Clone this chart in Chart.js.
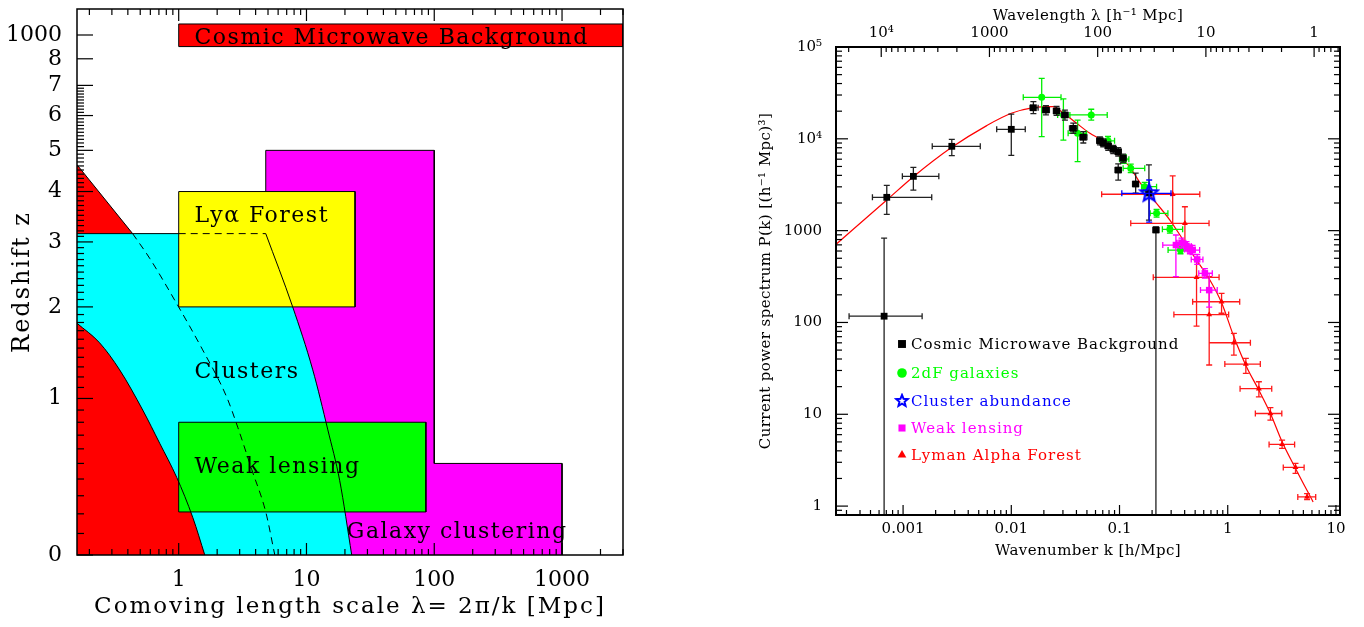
<!DOCTYPE html>
<html>
<head>
<meta charset="utf-8">
<script src="https://cdn.jsdelivr.net/npm/chart.js@4.4.1/dist/chart.umd.min.js"></script>
<style>
  html, body { margin: 0; padding: 0; background: #fff; }
  body { width: 1364px; height: 627px; position: relative; overflow: hidden; }
  canvas { position: absolute; top: 0; }
  #scalesChart { left: 0; }
  #powerChart { left: 680px; }
</style>
</head>
<body>
<canvas id="scalesChart" width="680" height="627"></canvas>
<canvas id="powerChart" width="684" height="627"></canvas>
<script>
// ---------- left panel: length scale [Mpc] vs redshift (stored as 1+z) ----------
const lengthTicks = [1, 10, 100, 1000];
const redshiftTicks = [1, 2, 3, 4, 5, 6, 7, 8, 9, 10];
const redshiftLabels = ['0', '1', '2', '3', '4', '5', '6', '7', '8', '1000'];

const cmbX = [1, 3000];            const cmbZ = [9.5, 10.5];
const lyaX = [1, 24];              const lyaZ = [3, 5];
const lensX = [1, 86];             const lensZ = [1.21, 1.8];
const galaxyX = [4.8, 100, 1000];  const galaxyZ = [6, 1.5];
const clusterX = [0.16, 4.8, 7.8, 11.2, 14.7, 18.2, 22.6];
const clusterZ = [4.15, 4.15, 3.0, 2.27, 1.74, 1.39, 1.0];
const clusterAltX = [0.436, 0.593, 0.931, 1.54, 2.38, 2.90, 3.73, 4.80, 5.65];
const clusterAltZ = [4.15, 3.72, 3.09, 2.48, 2.01, 1.76, 1.46, 1.21, 1.0];
const nonlinHiX = [0.16, 0.436];   const nonlinHiZ = [5.63, 4.15];
const nonlinLoX = [0.16, 0.24, 0.345, 0.523, 0.71, 0.965, 1.29, 1.6];
const nonlinLoZ = [2.79, 2.56, 2.27, 1.90, 1.64, 1.41, 1.18, 1.0];

const regionNames = ['Cosmic Microwave Background', 'Ly\u03b1 Forest', 'Clusters', 'Weak lensing', 'Galaxy clustering'];
const regionNameAt = [[1.33, 9.62], [1.33, 4.37], [1.33, 2.19], [1.33, 1.44], [20.7, 1.078]];

// ---------- right panel: P(k); rows are [k, P, kLo, kHi, PLo, PHi] ----------
const kTicks = [0.001, 0.01, 0.1, 1, 10];
const pTicks = [1, 10, 100, 1000, 1e4, 1e5];
const pLabels = ['1', '10', '100', '1000', '10\u2074', '10\u2075'];
const lambdaTicks = [1, 10, 100, 1000, 1e4];
const lambdaLabels = ['1', '10', '100', '1000', '10\u2074'];

const cmbRows = [
  [6.68e-4, 117, 3.17e-4, 1.50e-3, 0.5, 829],
  [7.07e-4, 2306, 5.21e-4, 1.84e-3, 1506, 3113],
  [1.245e-3, 3902, 9.85e-4, 2.14e-3, 2767, 4897],
  [2.82e-3, 8285, 1.86e-3, 5.17e-3, 6545, 9880],
  [0.0100, 12690, 7.33e-3, 0.01346, 6610, 18620],
  [0.0160, 21800, 0.0149, 0.0177, 18800, 25400],
  [0.0209, 20600, 0.0195, 0.0225, 18200, 23000],
  [0.0262, 20100, 0.0245, 0.0280, 18000, 22500],
  [0.0313, 18200, 0.0292, 0.0335, 16000, 20500],
  [0.0374, 13000, 0.0345, 0.0405, 11500, 14800],
  [0.0463, 10400, 0.0430, 0.0500, 9000, 12000],
  [0.0659, 9530, 0.0615, 0.0705, 8600, 10500],
  [0.0707, 9070, 0.0660, 0.0755, 8200, 10000],
  [0.0787, 8350, 0.0735, 0.0840, 7500, 9250],
  [0.0875, 7690, 0.0820, 0.0935, 6900, 8500],
  [0.0973, 7230, 0.0910, 0.104, 6500, 8000],
  [0.108, 6140, 0.101, 0.115, 5500, 6800],
  [0.0973, 4570, 0.0910, 0.104, 3550, 5330],
  [0.141, 3220, 0.132, 0.150, 2560, 4230],
  [0.187, 2570, 0.175, 0.199, 1300, 5190],
  [0.217, 1016, 0.204, 0.231, 0.5, 1100]
];
const twoDFRows = [
  [0.0191, 28300, 0.0129, 0.0288, 10550, 45600],
  [0.0303, 18200, 0.0268, 0.0348, 9700, 27200],
  [0.0410, 11500, 0.0335, 0.0496, 5640, 16000],
  [0.0548, 18200, 0.0348, 0.0770, 16000, 21000],
  [0.0783, 9500, 0.068, 0.090, 8500, 10600],
  [0.110, 6000, 0.100, 0.122, 5400, 6700],
  [0.127, 4770, 0.108, 0.171, 4300, 5300],
  [0.171, 3010, 0.160, 0.220, 2700, 3350],
  [0.220, 1543, 0.192, 0.280, 1400, 1700],
  [0.292, 1033, 0.249, 0.383, 940, 1130],
  [0.366, 615, 0.281, 0.464, 560, 680]
];
const clusterRows = [
  [0.188, 2550, 0.105, 0.299, 1241, 3560]
];
const lensingRows = [
  [0.332, 697, 0.251, 0.424, 315, 896],
  [0.374, 738, 0.340, 0.410, 650, 830],
  [0.416, 679, 0.370, 0.460, 600, 760],
  [0.447, 625, 0.400, 0.500, 560, 700],
  [0.473, 615, 0.430, 0.550, 550, 690],
  [0.522, 486, 0.460, 0.590, 430, 550],
  [0.615, 343, 0.540, 0.720, 305, 385],
  [0.674, 225, 0.560, 0.800, 147, 345]
];
const lymanRows = [
  [0.310, 2490, 0.0684, 0.552, 1200, 3940],
  [0.402, 1200, 0.127, 0.672, 615, 1820],
  [0.515, 310, 0.205, 0.832, 91, 478],
  [0.674, 122, 0.318, 1.02, 34.4, 315],
  [0.877, 168, 0.474, 1.29, 126, 207],
  [1.14, 60.1, 0.674, 1.62, 44, 76],
  [1.47, 35.2, 0.94, 2.0, 27.9, 40.6],
  [1.94, 19.0, 1.30, 2.55, 15.5, 22.6],
  [2.48, 10.2, 1.80, 3.16, 8.65, 11.8],
  [3.18, 4.70, 2.41, 4.15, 4.25, 5.24],
  [4.23, 2.64, 3.26, 5.08, 2.27, 2.92],
  [5.41, 1.26, 4.44, 6.5, 1.18, 1.37]
];
const modelK = [2.36e-4, 7.07e-4, 1.245e-3, 2.82e-3, 5.93e-3, 0.0100, 0.0160, 0.0244, 0.0292, 0.0402,
  0.0533, 0.0684, 0.0875, 0.1045, 0.125, 0.154, 0.220, 0.292, 0.388, 0.515, 0.684, 0.883, 1.14, 1.49,
  1.94, 2.48, 3.18, 4.23, 6.15];
const modelP = [697, 2154, 3864, 8075, 13930, 18960, 21840, 22390, 19730, 14750,
  11480, 9700, 7700, 6100, 4900, 3350, 1984, 1304, 790, 478, 290, 161, 69.8, 32.9,
  18.3, 10.2, 5.02, 2.57, 1.11];

const SERIF = "'DejaVu Serif', 'Liberation Serif', serif";
const GAP = { x: null, y: null };

function toPoints(xs, ys) { return xs.map((x, i) => ({ x: x, y: ys[i] })); }
function rowPoints(rows) { return rows.map(r => ({ x: r[0], y: r[1] })); }

function logMinor(lo, hi) {
  const out = [];
  for (let e = Math.floor(Math.log10(lo)); e <= Math.ceil(Math.log10(hi)); e++) {
    for (let m = 2; m <= 9; m++) {
      const v = m * Math.pow(10, e);
      if (v >= lo && v <= hi) out.push(v);
    }
  }
  return out;
}

// fixed axis box size, and no extra room reserved for labels at the ends
function fixedBox(w, h) {
  return s => {
    if (w !== null) s.width = w;
    if (h !== null) s.height = h;
    s.paddingTop = s.paddingBottom = s.paddingLeft = s.paddingRight = 0;
  };
}

// box frame with inward tick marks on the chosen sides
function frameTicks(sides, frameWidth) {
  return {
    id: 'frameTicks',
    afterDraw(chart) {
      const { ctx, chartArea: a } = chart;
      ctx.save();
      ctx.strokeStyle = '#000';
      ctx.lineWidth = 1.2;
      sides.forEach(side => {
        const sc = chart.scales[side.scale];
        const lo = Math.min(sc.min, sc.max), hi = Math.max(sc.min, sc.max);
        const mark = (vals, len) => vals.forEach(v => {
          if (v < lo || v > hi) return;
          const p = sc.getPixelForValue(v);
          ctx.beginPath();
          if (side.edge === 'bottom') { ctx.moveTo(p, a.bottom); ctx.lineTo(p, a.bottom - len); }
          if (side.edge === 'top') { ctx.moveTo(p, a.top); ctx.lineTo(p, a.top + len); }
          if (side.edge === 'left') { ctx.moveTo(a.left, p); ctx.lineTo(a.left + len, p); }
          if (side.edge === 'right') { ctx.moveTo(a.right, p); ctx.lineTo(a.right - len, p); }
          ctx.stroke();
        });
        mark(side.major, side.majorLen);
        mark(side.minor, side.minorLen);
      });
      ctx.lineWidth = frameWidth;
      ctx.strokeRect(a.left, a.top, a.right - a.left, a.bottom - a.top);
      ctx.restore();
    }
  };
}

// letter spacing for axis titles; tick labels (z > 0) are drawn after datasets with none
function titleSpacing(px) {
  return {
    id: 'titleSpacing',
    beforeDraw(chart) { chart.ctx.letterSpacing = px; },
    beforeDatasetsDraw(chart) { chart.ctx.letterSpacing = '0px'; }
  };
}

// ================= left chart =================
const fillBox = (xs, zs, color, order) => ({
  data: [{ x: xs[0], y: zs[1] }, { x: xs[1], y: zs[1] }],
  fill: { value: zs[0] }, backgroundColor: color, borderWidth: 0, order: order
});
const outline = (pts, order, dash) => ({
  data: pts, fill: false, borderColor: '#000', borderWidth: 1, borderDash: dash || [], order: order
});
const boxOutline = (xs, zs) => [
  { x: xs[0], y: zs[0] }, { x: xs[0], y: zs[1] }, { x: xs[1], y: zs[1] }, { x: xs[1], y: zs[0] }, { x: xs[0], y: zs[0] }
];

// cluster region: flat top, then the curved edge as its own segment so the corner stays sharp;
// the flat part runs a hair past the corner so the two fills overlap without a seam
const clusterTop = [{ x: clusterX[0], y: clusterZ[0] }, { x: clusterX[1] * 1.015, y: clusterZ[1] }];
const clusterSide = toPoints(clusterX.slice(1), clusterZ.slice(1));

const solidEdges = [].concat(
  toPoints(nonlinHiX, nonlinHiZ), [GAP],
  [{ x: clusterX[0], y: clusterZ[0] }, { x: lyaX[0], y: clusterZ[0] }], [GAP],
  clusterSide, [GAP],
  toPoints(nonlinLoX, nonlinLoZ)
);
const dashedEdges = [].concat(
  [{ x: lyaX[0], y: clusterZ[0] }, { x: clusterX[1], y: clusterZ[1] }], [GAP],
  toPoints(clusterAltX, clusterAltZ)
);

const zMinor = [];
for (let i = 1; i < 70; i++) if (i % 10) zMinor.push(1 + i / 10);

const regionLabels = {
  id: 'regionLabels',
  afterDraw(chart) {
    const { ctx, scales: { x, y } } = chart;
    ctx.save();
    ctx.letterSpacing = '1.5px';
    ctx.font = '22px ' + SERIF;
    ctx.fillStyle = '#000';
    ctx.textBaseline = 'alphabetic';
    regionNames.forEach((name, i) => {
      ctx.fillText(name, x.getPixelForValue(regionNameAt[i][0]), y.getPixelForValue(regionNameAt[i][1]));
    });
    ctx.restore();
  }
};

new Chart(document.getElementById('scalesChart'), {
  type: 'scatter',
  data: {
    datasets: [
      fillBox(cmbX, cmbZ, '#ff0000', 20),
      outline(boxOutline(cmbX, cmbZ), 19),
      fillBox(galaxyX.slice(0, 2), [1, galaxyZ[0]], '#ff00ff', 18),
      // lower block starts slightly inside the upper one so the fills overlap
      fillBox([galaxyX[1] * 0.98, galaxyX[2]], [1, galaxyZ[1]], '#ff00ff', 18),
      outline([{ x: galaxyX[0], y: clusterZ[0] }, { x: galaxyX[0], y: galaxyZ[0] }, { x: galaxyX[1], y: galaxyZ[0] },
               { x: galaxyX[1], y: galaxyZ[1] }, { x: galaxyX[2], y: galaxyZ[1] }, { x: galaxyX[2], y: 1 }], 17),
      { data: [].concat(clusterTop, [GAP], clusterSide), fill: 'start', backgroundColor: '#00ffff',
        borderWidth: 0, cubicInterpolationMode: 'monotone', order: 16 },
      { data: toPoints(nonlinHiX, nonlinHiZ), fill: { value: nonlinHiZ[1] }, backgroundColor: '#ff0000', borderWidth: 0, order: 15 },
      { data: toPoints(nonlinLoX, nonlinLoZ), fill: 'start', backgroundColor: '#ff0000', borderWidth: 0,
        cubicInterpolationMode: 'monotone', order: 15 },
      fillBox(lyaX, lyaZ, '#ffff00', 14),
      outline(boxOutline(lyaX, lyaZ), 13),
      fillBox(lensX, lensZ, '#00ff00', 12),
      outline(boxOutline(lensX, lensZ), 11),
      Object.assign(outline(solidEdges, 5), { cubicInterpolationMode: 'monotone' }),
      Object.assign(outline(dashedEdges, 5, [7, 5]), { cubicInterpolationMode: 'monotone' })
    ]
  },
  options: {
    responsive: false,
    animation: false,
    events: [],
    devicePixelRatio: 1,
    datasets: { scatter: { showLine: true, pointRadius: 0, spanGaps: false } },
    layout: { autoPadding: false, padding: { top: 9, right: 57, left: 0, bottom: 0 } },
    plugins: { legend: { display: false }, tooltip: { enabled: false } },
    scales: {
      x: {
        type: 'logarithmic', min: 0.16, max: 3000,
        grid: { display: false, drawTicks: false }, border: { display: false },
        afterBuildTicks: s => { s.ticks = lengthTicks.map(v => ({ value: v })); },
        afterFit: fixedBox(null, 72),
        ticks: { z: 1, autoSkip: false, maxRotation: 0, padding: 12, color: '#000',
                 font: { family: SERIF, size: 22 }, callback: v => String(v) },
        title: { display: true, text: 'Comoving length scale \u03bb= 2\u03c0/k [Mpc]', color: '#000',
                 font: { family: SERIF, size: 23 }, padding: { top: 0, bottom: 6 } }
      },
      y: {
        type: 'logarithmic', min: 1, max: 11.22,
        grid: { display: false, drawTicks: false }, border: { display: false },
        afterBuildTicks: s => { s.ticks = redshiftTicks.map(v => ({ value: v })); },
        afterFit: fixedBox(77, null),
        ticks: { z: 1, autoSkip: false, padding: 15, color: '#000', font: { family: SERIF, size: 22 },
                 callback: v => redshiftLabels[redshiftTicks.indexOf(v)] },
        title: { display: true, text: 'Redshift z', color: '#000',
                 font: { family: SERIF, size: 24 }, padding: { top: 8, bottom: 0 } }
      }
    }
  },
  plugins: [
    titleSpacing('2px'),
    regionLabels,
    frameTicks([
      { edge: 'bottom', scale: 'x', major: lengthTicks, minor: logMinor(0.16, 3000), majorLen: 12, minorLen: 6 },
      { edge: 'top', scale: 'x', major: lengthTicks, minor: logMinor(0.16, 3000), majorLen: 12, minorLen: 6 },
      { edge: 'left', scale: 'y', major: redshiftTicks, minor: zMinor, majorLen: 16, minorLen: 7 }
    ], 1.5)
  ]
});

// ================= right chart =================
function starImage(color, r, width) {
  const c = document.createElement('canvas');
  const s = Math.ceil(r * 2 + 4);
  c.width = c.height = s;
  const g = c.getContext('2d');
  g.strokeStyle = color;
  g.lineWidth = width;
  g.beginPath();
  for (let i = 0; i < 10; i++) {
    const ang = -Math.PI / 2 + i * Math.PI / 5;
    const rr = i % 2 ? r * 0.45 : r;
    const px = s / 2 + rr * Math.cos(ang), py = s / 2 + rr * Math.sin(ang);
    if (i) g.lineTo(px, py); else g.moveTo(px, py);
  }
  g.closePath();
  g.stroke();
  return c;
}
const bigStar = starImage('#0000ff', 9, 2.2);
const smallStar = starImage('#0000ff', 6, 2);

// horizontal and vertical error bars with small caps, drawn under each survey's markers
const errorBars = {
  id: 'errorBars',
  beforeDatasetDraw(chart, args) {
    const ds = chart.data.datasets[args.index];
    if (!ds.rows) return;
    const { ctx, chartArea: a, scales: { x, y } } = chart;
    const cap = 3;
    ctx.save();
    ctx.beginPath();
    ctx.rect(a.left, a.top, a.right - a.left, a.bottom - a.top);
    ctx.clip();
    ctx.strokeStyle = ds.errorColor;
    ctx.lineWidth = ds.errorWidth;
    ctx.beginPath();
    ds.rows.forEach(r => {
      const px = x.getPixelForValue(r[0]), py = y.getPixelForValue(r[1]);
      const x0 = x.getPixelForValue(r[2]), x1 = x.getPixelForValue(r[3]);
      const y0 = y.getPixelForValue(r[4]), y1 = y.getPixelForValue(r[5]);
      ctx.moveTo(x0, py); ctx.lineTo(x1, py);
      ctx.moveTo(px, y0); ctx.lineTo(px, y1);
      ctx.moveTo(x0, py - cap); ctx.lineTo(x0, py + cap);
      ctx.moveTo(x1, py - cap); ctx.lineTo(x1, py + cap);
      ctx.moveTo(px - cap, y0); ctx.lineTo(px + cap, y0);
      ctx.moveTo(px - cap, y1); ctx.lineTo(px + cap, y1);
    });
    ctx.stroke();
    ctx.restore();
  }
};

const legendRowsY = [344, 373, 401, 428, 455];
const surveyLegend = {
  id: 'surveyLegend',
  afterDraw(chart) {
    const { ctx } = chart;
    const order = [5, 1, 4, 3, 2];
    ctx.save();
    ctx.letterSpacing = '1px';
    ctx.font = '15px ' + SERIF;
    ctx.textBaseline = 'middle';
    order.forEach((idx, i) => {
      const ds = chart.data.datasets[idx];
      const yy = legendRowsY[i];
      ctx.fillStyle = ds.backgroundColor;
      ctx.strokeStyle = ds.borderColor;
      Chart.helpers.drawPoint(ctx, {
        pointStyle: ds.pointStyle === bigStar ? smallStar : ds.pointStyle,
        radius: ds.legendRadius, rotation: 0, borderWidth: 0
      }, 222, yy);
      ctx.fillStyle = ds.backgroundColor;
      ctx.fillText(ds.label, 231, yy + 1);
    });
    ctx.restore();
  }
};

const survey = (label, rows, color, errorColor, style, radius, legendRadius, order) => ({
  label: label, rows: rows, data: rowPoints(rows), errorColor: errorColor, errorWidth: 1.3,
  pointStyle: style, pointRadius: radius, legendRadius: legendRadius,
  backgroundColor: color, borderColor: color, pointBorderWidth: 0, showLine: false, order: order
});

new Chart(document.getElementById('powerChart'), {
  type: 'scatter',
  data: {
    datasets: [
      { label: 'model', data: toPoints(modelK, modelP), showLine: true, pointRadius: 0, fill: false,
        borderColor: '#ff0000', borderWidth: 1.2, cubicInterpolationMode: 'monotone', order: 10 },
      survey('2dF galaxies', twoDFRows, '#00ff00', '#00ee00', 'circle', 3.5, 4.8, 7),
      survey('Lyman Alpha Forest', lymanRows, '#ff0000', '#ff1a1a', 'triangle', 3.4, 5, 8),
      survey('Weak lensing', lensingRows, '#ff00ff', '#ff00ff', 'rect', 4.6, 5, 5),
      survey('Cluster abundance', clusterRows, '#0000ff', '#0000ff', bigStar, 9, 6, 4),
      survey('Cosmic Microwave Background', cmbRows, '#000000', '#222222', 'rect', 4.8, 5.6, 6)
    ]
  },
  options: {
    responsive: false,
    animation: false,
    events: [],
    devicePixelRatio: 1,
    layout: { autoPadding: false, padding: { top: 0, right: 24, left: 0, bottom: 0 } },
    plugins: { legend: { display: false }, tooltip: { enabled: false } },
    scales: {
      x: {
        type: 'logarithmic', min: 2.4e-4, max: 10.9, position: 'bottom',
        grid: { display: false, drawTicks: false }, border: { display: false },
        afterBuildTicks: s => { s.ticks = kTicks.map(v => ({ value: v })); },
        afterFit: fixedBox(null, 112),
        ticks: { z: 1, autoSkip: false, maxRotation: 0, padding: 5, color: '#000',
                 font: { family: SERIF, size: 15 }, callback: v => String(v) },
        title: { display: true, text: 'Wavenumber k [h/Mpc]', color: '#000',
                 font: { family: SERIF, size: 15 }, padding: { top: 0, bottom: 67 } }
      },
      x2: {
        type: 'logarithmic', position: 'top', reverse: true,
        min: 2 * Math.PI / 10.9, max: 2 * Math.PI / 2.4e-4,
        grid: { display: false, drawTicks: false }, border: { display: false },
        afterBuildTicks: s => { s.ticks = lambdaTicks.map(v => ({ value: v })); },
        afterFit: fixedBox(null, 47),
        ticks: { z: 1, autoSkip: false, maxRotation: 0, padding: 5, color: '#000',
                 font: { family: SERIF, size: 15 }, callback: v => lambdaLabels[lambdaTicks.indexOf(v)] },
        title: { display: true, text: 'Wavelength \u03bb [h\u207b\u00b9 Mpc]', color: '#000',
                 font: { family: SERIF, size: 15 }, padding: { top: 7, bottom: 0 } }
      },
      y: {
        type: 'logarithmic', min: 0.8, max: 1e5,
        grid: { display: false, drawTicks: false }, border: { display: false },
        afterBuildTicks: s => { s.ticks = pTicks.map(v => ({ value: v })); },
        afterFit: fixedBox(156, null),
        ticks: { z: 1, autoSkip: false, padding: 14, color: '#000', font: { family: SERIF, size: 15 },
                 callback: v => pLabels[pTicks.indexOf(v)] },
        title: { display: true, text: 'Current power spectrum P(k) [(h\u207b\u00b9 Mpc)\u00b3]', color: '#000',
                 font: { family: SERIF, size: 15 }, padding: { top: 77, bottom: 0 } }
      }
    }
  },
  plugins: [
    titleSpacing('0.4px'),
    errorBars,
    surveyLegend,
    frameTicks([
      { edge: 'bottom', scale: 'x', major: kTicks, minor: logMinor(2.4e-4, 10.9), majorLen: 10, minorLen: 5 },
      { edge: 'top', scale: 'x2', major: lambdaTicks, minor: logMinor(0.57, 26300), majorLen: 10, minorLen: 5 },
      { edge: 'left', scale: 'y', major: pTicks, minor: logMinor(0.8, 1e5), majorLen: 12, minorLen: 6 },
      { edge: 'right', scale: 'y', major: pTicks, minor: logMinor(0.8, 1e5), majorLen: 12, minorLen: 6 }
    ], 2)
  ]
});
</script>
</body>
</html>
